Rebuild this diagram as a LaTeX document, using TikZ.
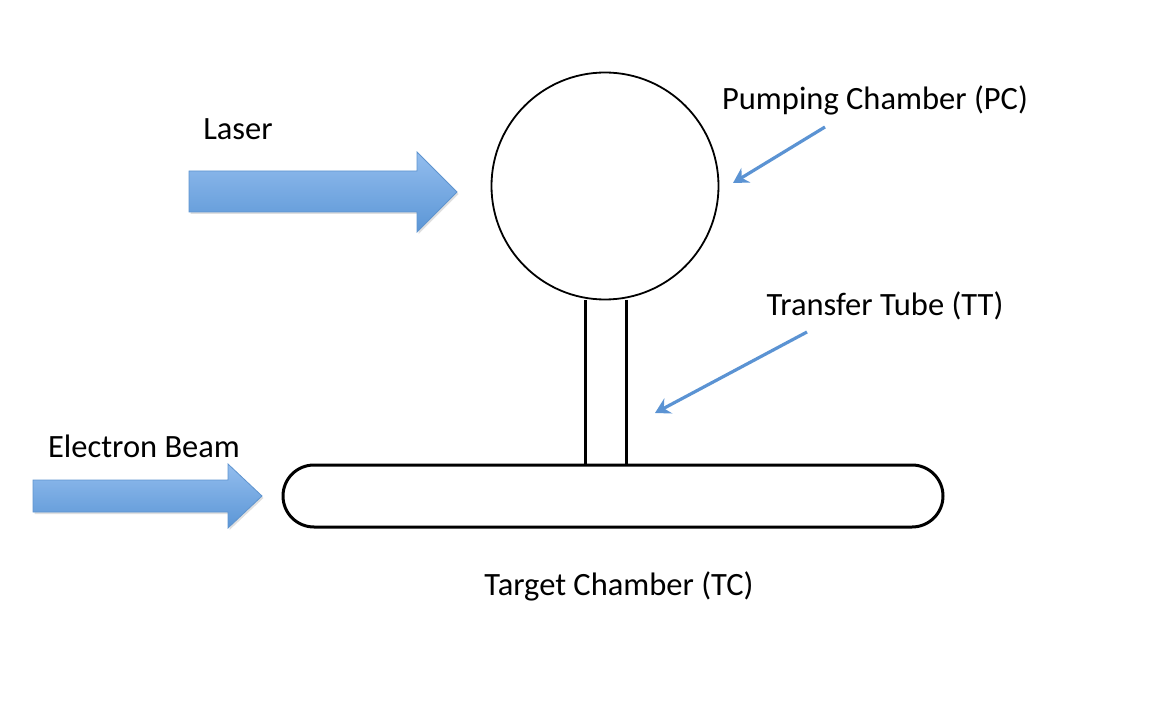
\documentclass[tikz,border=0pt]{standalone}
\usepackage{fontspec}
\setmainfont{Carlito}
\usetikzlibrary{arrows.meta,shapes.arrows,shadows}
\definecolor{arrowtop}{HTML}{93BDEE}
\definecolor{arrowbot}{HTML}{5B96D6}
\definecolor{arrowedge}{HTML}{5E94CF}
\definecolor{thinblue}{HTML}{5B93D3}
\tikzset{
  lbl/.style={font=\fontsize{32.5}{36}\selectfont, inner sep=0pt},
  bigarrow/.style={draw=arrowedge, line width=0.8pt, top color=arrowtop, bottom color=arrowbot,
     drop shadow={shadow xshift=1.5pt, shadow yshift=-2pt, opacity=0.25}},
  thinarrow/.style={draw=thinblue, line width=3.2pt, -{Stealth[length=15pt,width=17pt,inset=5pt]}},
  chamber/.style={draw=black, line width=3pt},
}
\begin{document}
\begin{tikzpicture}[x=1pt,y=-1pt]
\useasboundingbox (0,0) rectangle (1152,722);
% Pumping chamber
\node[circle, draw=black, line width=1.8pt, fill=white, minimum size=227pt, inner sep=0pt] (pc) at (605,186) {};
% Transfer tube
\coordinate (ttl) at (585,300);
\coordinate (ttr) at (626,300);
\coordinate (tbl) at (585,465);
\coordinate (tbr) at (626,465);
\draw[chamber] (ttl) -- (tbl);
\draw[chamber] (ttr) -- (tbr);
% Target chamber
\coordinate (tcA) at (314,465);
\coordinate (tcB) at (912,465);
\draw[chamber] (tcA) -- (tcB) arc[start angle=-90,end angle=90,radius=31] -- ++(-598,0) arc[start angle=90,end angle=270,radius=31] -- cycle;
\node[draw=none, inner sep=0pt, minimum width=660pt, minimum height=62pt] (tc) at (613,496) {};
% Laser arrow
\draw[bigarrow] (189,171) -- (417,171) -- (417,152) -- (457,192) -- (417,232) -- (417,212) -- (189,212) -- cycle;
% Electron beam arrow
\draw[bigarrow] (33,480) -- (228,480) -- (228,464) -- (262,496) -- (228,528) -- (228,512) -- (33,512) -- cycle;
% Labels
\node[lbl] (laser) at (238,129) {Laser};
\node[lbl] (pclabel) at (875,100) {Pumping Chamber (PC)};
\node[lbl] (ttlabel) at (885,306) {Transfer Tube (TT)};
\node[lbl] (eb) at (144,446) {Electron Beam};
\node[lbl] (tclabel) at (619,586) {Target Chamber (TC)};
% pointer arrows
\coordinate (pcs) at (825,127);
\coordinate (pce) at (733,183);
\coordinate (tts) at (807,332);
\coordinate (tte) at (655,413);
\draw[thinarrow] (pcs) -- (pce);
\draw[thinarrow] (tts) -- (tte);
\end{tikzpicture}
\end{document}
